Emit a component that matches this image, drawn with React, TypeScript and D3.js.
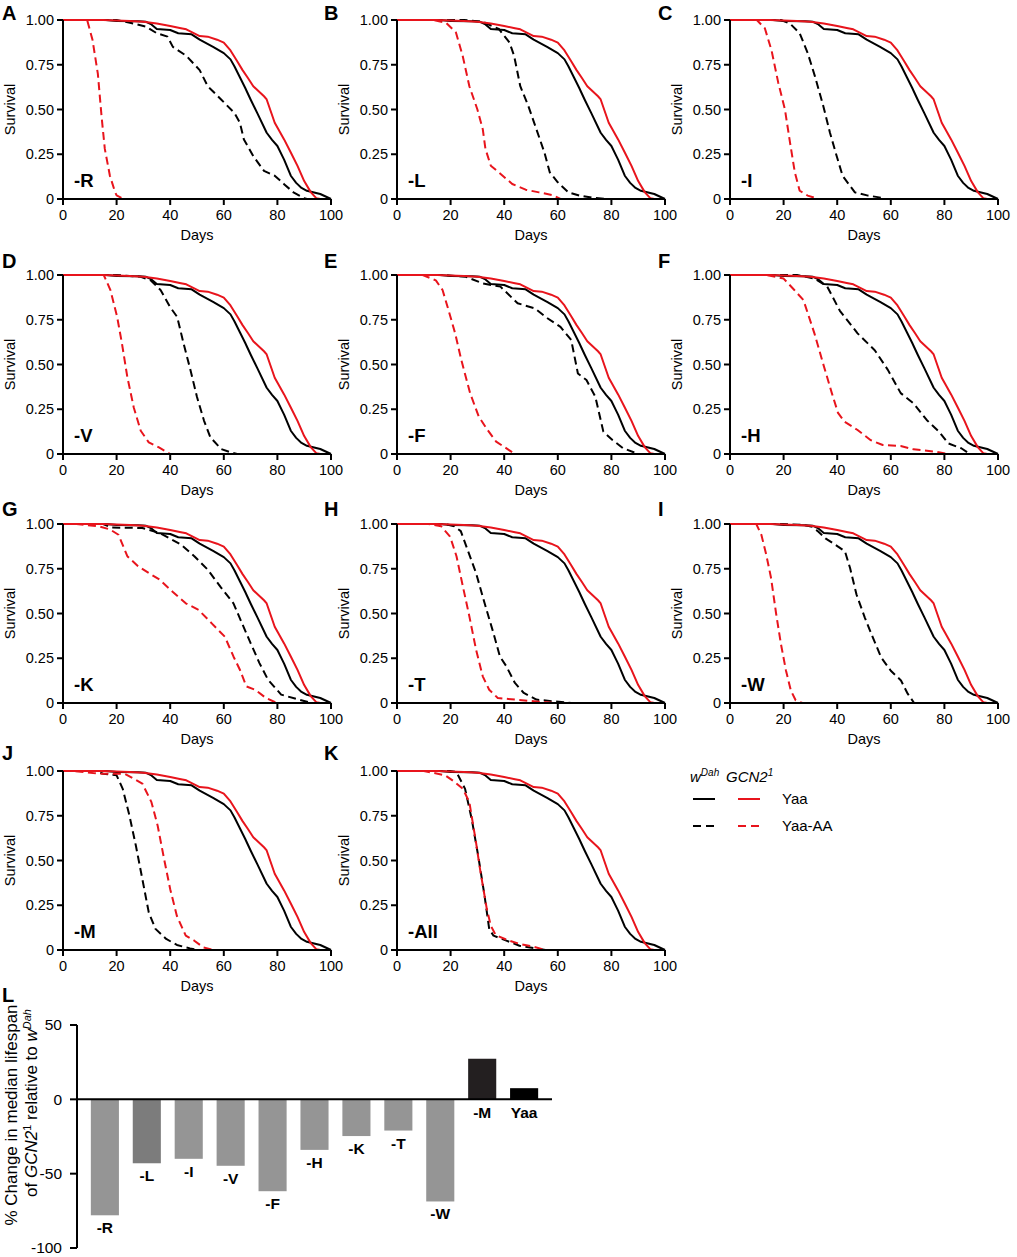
import React from "react";
import * as d3 from "d3";

type Pt = [number, number];

// shared axes
const DAY_TICKS = [0, 20, 40, 60, 80, 100];
const SURV_TICKS = [0, 0.25, 0.5, 0.75, 1];
const SURV_TICK_LABELS = ["0", "0.25", "0.50", "0.75", "1.00"];

// control curves (same in every panel)
const WDAH_YAA: Pt[] = [
  [0, 1], [16, 1], [20, 0.995], [28, 0.993], [31, 0.99], [33, 0.975], [35, 0.95], [40, 0.944], [43, 0.926],
  [48, 0.92], [51, 0.89], [56, 0.85], [60, 0.815], [62.5, 0.78], [64, 0.74], [66, 0.68], [68, 0.62],
  [70, 0.556], [72.5, 0.48], [76, 0.37], [78, 0.33], [80, 0.296], [82.5, 0.22], [85, 0.13], [87, 0.09],
  [89, 0.062], [91, 0.046], [96, 0.028], [100, 0],
];
const GCN2_YAA: Pt[] = [
  [0, 1], [15, 1], [25, 0.995], [30, 0.99], [35, 0.98], [40, 0.967], [44, 0.954], [46, 0.948], [51, 0.91],
  [54, 0.907], [57.5, 0.89], [60, 0.874], [62.5, 0.83], [65, 0.77], [67, 0.72], [69, 0.676], [71, 0.63],
  [75, 0.574], [76, 0.556], [79, 0.426], [80, 0.4], [82.5, 0.333], [85, 0.26], [87.5, 0.185], [90, 0.1],
  [92.5, 0.037], [94.5, 0.005], [96, 0],
];

// Yaa-AA curves per dropout diet
const R_WDAH: Pt[] = [[0, 1], [20, 1], [25, 0.985], [31, 0.963], [35, 0.926], [39, 0.907], [41, 0.85], [46, 0.8], [51, 0.72], [54, 0.63], [59, 0.556], [64, 0.48], [66, 0.426], [67.5, 0.333], [71, 0.24], [75, 0.157], [79, 0.13], [82.5, 0.083], [86, 0.037], [90, 0.005], [91, 0]];
const R_GCN2: Pt[] = [[0, 1], [9, 1], [11, 0.89], [13, 0.7], [14.4, 0.46], [15.6, 0.28], [17.5, 0.13], [19.4, 0.04], [20, 0.02], [22, 0.005], [22.5, 0]];
const L_WDAH: Pt[] = [[0, 1], [25, 1], [32, 0.99], [38, 0.95], [42, 0.874], [43.7, 0.8], [46, 0.63], [49, 0.52], [52, 0.39], [55, 0.26], [57, 0.149], [60, 0.093], [64, 0.037], [68, 0.019], [73, 0.007], [78, 0]];
const L_GCN2: Pt[] = [[0, 1], [13.4, 1], [18.3, 0.985], [22, 0.93], [24.5, 0.8], [27, 0.63], [30, 0.5], [32, 0.39], [33, 0.28], [35, 0.186], [38, 0.149], [43, 0.084], [48, 0.052], [53, 0.037], [58, 0.022], [61, 0]];
const I_WDAH: Pt[] = [[0, 1], [19, 1], [22.4, 0.98], [26, 0.926], [29, 0.815], [31.7, 0.685], [34.8, 0.52], [37.3, 0.37], [39.8, 0.24], [42, 0.13], [46.6, 0.037], [51.5, 0.019], [57, 0.006], [58, 0]];
const I_GCN2: Pt[] = [[0, 1], [10, 1], [13, 0.954], [15.5, 0.83], [18, 0.65], [20.5, 0.5], [22.4, 0.315], [24.2, 0.148], [26, 0.046], [29, 0.019], [33, 0]];
const V_WDAH: Pt[] = [[0, 1], [20, 1], [29, 0.99], [32.7, 0.97], [36.4, 0.916], [40, 0.82], [42.6, 0.766], [45, 0.617], [47.6, 0.467], [50, 0.318], [52.6, 0.187], [55, 0.093], [59, 0.028], [62.6, 0.009], [65, 0]];
const V_GCN2: Pt[] = [[0, 1], [15.2, 1], [17.7, 0.916], [20.2, 0.766], [22, 0.617], [24, 0.43], [26.4, 0.26], [29, 0.13], [32, 0.065], [35.8, 0.037], [40, 0]];
const F_WDAH: Pt[] = [[0, 1], [17.7, 1], [25.7, 0.99], [32, 0.953], [38.6, 0.935], [45, 0.842], [51.4, 0.814], [56, 0.76], [61, 0.71], [65, 0.637], [67.5, 0.45], [70.7, 0.413], [74, 0.32], [77, 0.125], [80.4, 0.078], [84.4, 0.032], [90, 0]];
const F_GCN2: Pt[] = [[0, 1], [9.6, 1], [14.5, 0.97], [17, 0.916], [19.3, 0.8], [21.7, 0.674], [24, 0.525], [27.3, 0.339], [30.5, 0.209], [33.8, 0.134], [37, 0.069], [41.8, 0.022], [44, 0]];
const H_WDAH: Pt[] = [[0, 1], [25, 1], [31.5, 0.98], [36.3, 0.935], [41, 0.8], [47.6, 0.674], [54, 0.58], [58.9, 0.47], [63.7, 0.34], [68.5, 0.283], [73.4, 0.19], [78, 0.125], [81.5, 0.059], [86.3, 0.032], [89.5, 0]];
const H_GCN2: Pt[] = [[0, 1], [13.7, 1], [20, 0.98], [24, 0.916], [27.4, 0.86], [31.5, 0.674], [34.7, 0.507], [38, 0.34], [40.3, 0.23], [42.7, 0.181], [47.6, 0.134], [52.4, 0.078], [57, 0.05], [63.7, 0.045], [68.5, 0.026], [76.6, 0.013], [81.5, 0]];
const K_WDAH: Pt[] = [[0, 1], [15, 1], [18, 0.98], [29.6, 0.978], [36, 0.95], [44, 0.885], [49, 0.82], [54, 0.745], [58.7, 0.65], [63.6, 0.557], [66.8, 0.445], [70, 0.335], [73.3, 0.223], [76.5, 0.13], [81.4, 0.047], [87.9, 0.019], [92.7, 0]];
const K_GCN2: Pt[] = [[0, 1], [5, 1], [13.4, 0.987], [17.5, 0.97], [20.7, 0.94], [24, 0.82], [28, 0.764], [32, 0.726], [36, 0.69], [41, 0.62], [45.8, 0.557], [50.6, 0.52], [55.5, 0.445], [60.4, 0.37], [63.6, 0.26], [66, 0.186], [68.4, 0.093], [71.7, 0.074], [75.7, 0.028], [79.8, 0]];
const T_WDAH: Pt[] = [[0, 1], [18, 1], [21.4, 0.987], [23.8, 0.96], [26.3, 0.857], [29.5, 0.726], [32.7, 0.557], [36, 0.39], [38.4, 0.26], [40.8, 0.205], [44, 0.112], [47.3, 0.056], [52, 0.019], [58.7, 0.009], [65, 0]];
const T_GCN2: Pt[] = [[0, 1], [11.7, 1], [16.5, 0.987], [19.8, 0.93], [22.2, 0.82], [24.6, 0.65], [27, 0.484], [29.5, 0.298], [32, 0.149], [34.4, 0.074], [37.6, 0.028], [44, 0.019], [52, 0.009], [58.7, 0]];
const W_WDAH: Pt[] = [[0, 1], [19.6, 1], [27, 0.995], [30.7, 0.985], [33, 0.957], [35.6, 0.92], [39.3, 0.884], [42.9, 0.847], [44.8, 0.754], [47.2, 0.606], [50.3, 0.477], [52.8, 0.384], [56.4, 0.255], [60, 0.18], [63.8, 0.126], [66.3, 0.052], [68.7, 0], [73, 0]];
const W_GCN2: Pt[] = [[0, 1], [9.8, 1], [11.7, 0.94], [13.5, 0.83], [15.3, 0.7], [17.2, 0.5], [19, 0.33], [20.9, 0.18], [22.7, 0.07], [24.5, 0.015], [27, 0]];
const M_WDAH: Pt[] = [[0, 1], [11.8, 1], [15, 0.985], [20, 0.976], [22.3, 0.9], [24.8, 0.75], [27.2, 0.582], [29.6, 0.397], [32, 0.21], [34.5, 0.118], [38.5, 0.062], [42.5, 0.028], [47.4, 0.009], [50.6, 0]];
const M_GCN2: Pt[] = [[0, 1], [3.7, 1], [13.4, 0.985], [23, 0.985], [26.4, 0.957], [29.6, 0.93], [33, 0.826], [35.3, 0.696], [37.7, 0.51], [40, 0.34], [42.5, 0.19], [45.8, 0.08], [49, 0.052], [52.3, 0.015], [56.3, 0]];
const ALL_WDAH: Pt[] = [[0, 1], [19.8, 1], [22.2, 0.994], [25.4, 0.9], [27.9, 0.73], [30.3, 0.526], [32.7, 0.3], [34.4, 0.118], [36, 0.08], [40.8, 0.052], [45.7, 0.024], [52, 0.009], [55.4, 0]];
const ALL_GCN2: Pt[] = [[0, 1], [10, 1], [18, 0.976], [21.4, 0.94], [24.6, 0.9], [27, 0.826], [29.5, 0.6], [31, 0.45], [33.5, 0.23], [35, 0.136], [36.8, 0.084], [40.8, 0.058], [45.7, 0.034], [50.6, 0.02], [55.4, 0]];

const PANEL_LETTERS = ["A", "B", "C", "D", "E", "F", "G", "H", "I", "J", "K"];
const PANEL_DIETS = ["-R", "-L", "-I", "-V", "-F", "-H", "-K", "-T", "-W", "-M", "-All"];
const PANEL_WDAH_AA = [R_WDAH, L_WDAH, I_WDAH, V_WDAH, F_WDAH, H_WDAH, K_WDAH, T_WDAH, W_WDAH, M_WDAH, ALL_WDAH];
const PANEL_GCN2_AA = [R_GCN2, L_GCN2, I_GCN2, V_GCN2, F_GCN2, H_GCN2, K_GCN2, T_GCN2, W_GCN2, M_GCN2, ALL_GCN2];

// panel L: % change in median lifespan
const BAR_CATS = ["-R", "-L", "-I", "-V", "-F", "-H", "-K", "-T", "-W", "-M", "Yaa"];
const BAR_VALUES = [-78, -43, -40, -44.7, -61.8, -34, -24.7, -21, -68.7, 27.3, 7.5];
const BAR_COLORS = ["#959595", "#7c7c7c", "#959595", "#959595", "#959595", "#959595", "#959595", "#959595", "#959595", "#231f20", "#000000"];
const BAR_TICKS = [50, 0, -50, -100];

const RED = "#e8141c";
const FONT = "'Liberation Sans', Arial, Helvetica, sans-serif";
const DASH = "8,4.5";

const COL_X = [63, 397, 730];
const ROW_Y = [20, 275, 524, 771];
const PANEL_W = 268;
const PANEL_H = 179;
const LETTER_X = [2, 324, 658];
const LETTER_Y = [20, 268, 516, 760];

function SurvivalPanel({ idx }: { idx: number }) {
  const col = idx % 3;
  const row = Math.floor(idx / 3);
  const left = COL_X[col];
  const top = ROW_Y[row];
  const x = d3.scaleLinear().domain([0, 100]).range([0, PANEL_W]);
  const y = d3.scaleLinear().domain([0, 1]).range([PANEL_H, 0]);
  const line = d3.line<Pt>().x((d) => x(d[0])).y((d) => y(d[1]));

  const curves = [
    { d: PANEL_WDAH_AA[idx], color: "#000", dash: DASH },
    { d: PANEL_GCN2_AA[idx], color: RED, dash: DASH },
    { d: WDAH_YAA, color: "#000", dash: undefined },
    { d: GCN2_YAA, color: RED, dash: undefined },
  ];

  return (
    <g>
      <text x={LETTER_X[col]} y={LETTER_Y[row]} fontSize={20} fontWeight="bold">{PANEL_LETTERS[idx]}</text>
      <g transform={`translate(${left},${top})`}>
        {curves.map((c, i) => (
          <path key={i} d={line(c.d) || ""} fill="none" stroke={c.color} strokeWidth={2} strokeDasharray={c.dash} strokeLinejoin="round" />
        ))}
        {/* y axis */}
        <line x1={0} x2={0} y1={y(1)} y2={y(0)} stroke="#000" strokeWidth={2} />
        {SURV_TICKS.map((t, i) => (
          <g key={t}>
            <line x1={-6} x2={0} y1={y(t)} y2={y(t)} stroke="#000" strokeWidth={2} />
            <text x={-9} y={y(t)} dy="0.35em" textAnchor="end" fontSize={14.5}>{SURV_TICK_LABELS[i]}</text>
          </g>
        ))}
        {/* x axis */}
        <line x1={-1} x2={PANEL_W} y1={y(0)} y2={y(0)} stroke="#000" strokeWidth={2} />
        {DAY_TICKS.map((t) => (
          <g key={t}>
            <line x1={x(t)} x2={x(t)} y1={y(0)} y2={y(0) + 6} stroke="#000" strokeWidth={2} />
            <text x={x(t)} y={y(0) + 21} textAnchor="middle" fontSize={14.5}>{t}</text>
          </g>
        ))}
        <text x={PANEL_W / 2} y={y(0) + 41} textAnchor="middle" fontSize={14.5}>Days</text>
        <text transform={`translate(-53,${PANEL_H / 2}) rotate(-90)`} textAnchor="middle" dy="0.35em" fontSize={14.5}>Survival</text>
        <text x={11} y={PANEL_H - 12} fontSize={18.5} fontWeight="bold">{PANEL_DIETS[idx]}</text>
      </g>
    </g>
  );
}

function Legend() {
  return (
    <g fontSize={15}>
      <text x={690} y={782} fontStyle="italic">
        w<tspan fontSize={10} dy={-6}>Dah</tspan>
      </text>
      <text x={726} y={782} fontStyle="italic">
        GCN2<tspan fontSize={10} dy={-6}>1</tspan>
      </text>
      <line x1={693} x2={715} y1={799} y2={799} stroke="#000" strokeWidth={2} />
      <line x1={738} x2={760} y1={799} y2={799} stroke={RED} strokeWidth={2} />
      <text x={782} y={799} dy="0.35em">Yaa</text>
      <line x1={693} x2={715} y1={826} y2={826} stroke="#000" strokeWidth={2} strokeDasharray="8,5" />
      <line x1={738} x2={760} y1={826} y2={826} stroke={RED} strokeWidth={2} strokeDasharray="8,5" />
      <text x={782} y={826} dy="0.35em">Yaa-AA</text>
    </g>
  );
}

function BarPanel() {
  const x = d3.scaleBand<string>().domain(BAR_CATS).range([77, 552]).paddingInner(0.33).paddingOuter(0.33);
  const y = d3.scaleLinear().domain([-100, 50]).range([1248, 1025]);
  return (
    <g>
      <text x={2} y={1002} fontSize={20} fontWeight="bold">L</text>
      {BAR_VALUES.map((v, i) => (
        <rect key={BAR_CATS[i]} x={x(BAR_CATS[i])} y={y(Math.max(v, 0))} width={x.bandwidth()} height={Math.abs(y(v) - y(0))} fill={BAR_COLORS[i]} />
      ))}
      {BAR_VALUES.map((v, i) => (
        <text key={BAR_CATS[i]} x={(x(BAR_CATS[i]) || 0) + x.bandwidth() / 2} y={v < 0 ? y(v) + 18 : y(0) + 19}
          textAnchor="middle" fontSize={15.5} fontWeight="bold">{BAR_CATS[i]}</text>
      ))}
      <line x1={77} x2={552} y1={y(0)} y2={y(0)} stroke="#000" strokeWidth={2} />
      <line x1={77} x2={77} y1={y(50)} y2={y(-100)} stroke="#000" strokeWidth={2} />
      {BAR_TICKS.map((t) => (
        <g key={t}>
          <line x1={70} x2={77} y1={y(t)} y2={y(t)} stroke="#000" strokeWidth={2} />
          <text x={62} y={y(t)} dy="0.35em" textAnchor="end" fontSize={15.5}>{t}</text>
        </g>
      ))}
      <text transform="translate(0,1115) rotate(-90)" y={17} fontSize={17} textAnchor="middle">% Change in median lifespan</text>
      <text transform="translate(0,1103) rotate(-90)" y={37} fontSize={17} textAnchor="middle">
        of <tspan fontStyle="italic">GCN2</tspan><tspan fontSize={11} dy={-6}>1</tspan><tspan dy={6}> relative to </tspan>
        <tspan fontStyle="italic">w</tspan><tspan fontStyle="italic" fontSize={11} dy={-6}>Dah</tspan>
      </text>
    </g>
  );
}

export default function App() {
  return (
    <svg width={1017} height={1257} style={{ position: "absolute", left: 0, top: 0, background: "#fff" }} fontFamily={FONT}>
      <rect width={1017} height={1257} fill="#fff" />
      {PANEL_LETTERS.map((_, i) => (
        <SurvivalPanel key={i} idx={i} />
      ))}
      <Legend />
      <BarPanel />
    </svg>
  );
}
